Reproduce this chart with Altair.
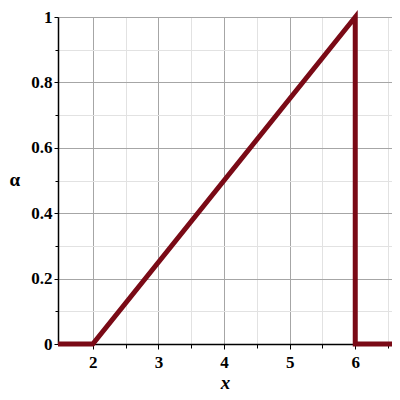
import altair as alt
import pandas as pd

xs = [1.47, 2, 6, 6, 6.56]
alphas = [0, 0, 1, 0, 0]
x_major = [2, 3, 4, 5, 6]
x_minor = [2.5, 3.5, 4.5, 5.5, 6.5]
y_major = [0, 0.2, 0.4, 0.6, 0.8, 1]
y_minor = [0.1, 0.3, 0.5, 0.7, 0.9]

df = pd.DataFrame({"x": xs, "alpha": alphas, "i": list(range(len(xs)))})

FONT = "Liberation Serif"
xscale = alt.Scale(domain=[1.47, 6.56], nice=False, zero=False)
yscale = alt.Scale(domain=[0, 1], nice=False)

minor = alt.Chart(df).mark_line(opacity=0).encode(
    x=alt.X("x:Q", scale=xscale, axis=alt.Axis(
        values=x_minor, orient="bottom", labels=False, domain=False, title=None,
        tickSize=4, tickColor="black", gridColor="#e2e2e2", grid=True)),
    y=alt.Y("alpha:Q", scale=yscale, axis=alt.Axis(
        values=y_minor, orient="left", labels=False, domain=False, title=None,
        tickSize=3, tickColor="black", gridColor="#e2e2e2", grid=True)),
)

main = alt.Chart(df).mark_line(color="#7a0a16", strokeWidth=5, strokeJoin="miter").encode(
    x=alt.X("x:Q", scale=xscale, axis=alt.Axis(
        values=x_major, orient="bottom", title="x", format="d",
        tickSize=5, tickColor="black", domainColor="black", domainWidth=1.5,
        gridColor="#a6a6a6", grid=True,
        labelFont=FONT, labelFontSize=17, labelFontWeight="bold", labelColor="black", labelPadding=5,
        titleFont=FONT, titleFontSize=19, titleFontWeight="bold", titleFontStyle="italic",
        titleColor="black", titlePadding=3)),
    y=alt.Y("alpha:Q", scale=yscale, axis=alt.Axis(
        values=y_major, orient="left", title="α", format="~g",
        tickSize=4, tickColor="black", domainColor="black", domainWidth=1.5,
        gridColor="#a6a6a6", grid=True,
        labelFont=FONT, labelFontSize=17, labelFontWeight="bold", labelColor="black", labelPadding=2,
        titleFont=FONT, titleFontSize=19, titleFontWeight="bold", titleColor="black",
        titleAngle=0, titleX=-49, titleY=172, titleAlign="left")),
    order="i:Q",
)

chart = alt.layer(minor, main).resolve_axis(x="independent", y="independent").properties(
    width=334, height=327, padding={"left": 50, "top": 9, "right": 0, "bottom": 48},
    autosize=alt.AutoSizeParams(type="none"),
).configure_view(stroke=None).configure(background="white")

chart.save("out.html", embed_options={"renderer": "svg", "actions": False})
